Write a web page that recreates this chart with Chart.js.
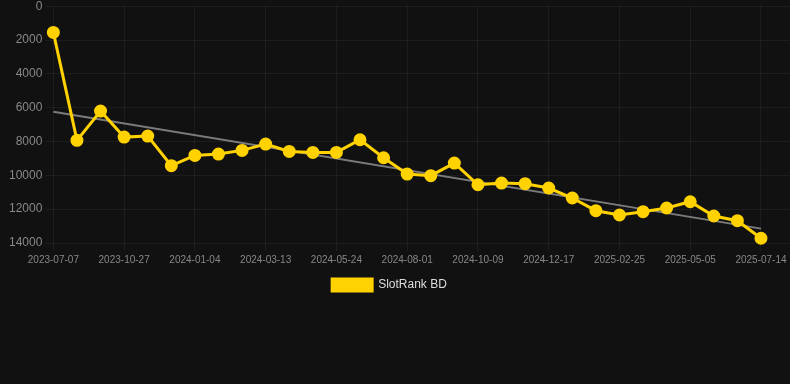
<!DOCTYPE html>
<html><head><meta charset="utf-8">
<script src="https://cdn.jsdelivr.net/npm/chart.js@4"></script>
<style>html,body{margin:0;padding:0;background:#111111;overflow:hidden;}#wrap{width:790px;height:305px;margin-top:-4px;position:relative;}</style>
</head><body><div id="wrap"><canvas id="c"></canvas></div>
<script>
const dates = ["2023-07-07","2023-08-13","2023-09-20","2023-10-27","2023-11-19","2023-12-12",
  "2024-01-04","2024-01-27","2024-02-19","2024-03-13","2024-04-06","2024-04-30",
  "2024-05-24","2024-06-16","2024-07-09","2024-08-01","2024-08-24","2024-09-16",
  "2024-10-09","2024-11-01","2024-11-24","2024-12-17","2025-01-09","2025-02-01",
  "2025-02-25","2025-03-20","2025-04-12","2025-05-05","2025-05-28","2025-06-20","2025-07-14"];
const ranks = [1550,7930,6200,7740,7680,9430,8820,8740,8525,8150,8585,8645,8645,7895,8960,
  9925,10020,9275,10555,10455,10495,10750,11340,12090,12345,12150,11930,11560,12405,12680,13720];
const trendEnds = [6240,13150];
const shownDateIdx = [0,3,6,9,12,15,18,21,24,27,30];
const yTicks = [0,2000,4000,6000,8000,10000,12000,14000];

const yellow = '#FFD200';
const grid = 'rgba(255,255,255,0.05)';
const legendCenterX = 389.5;
const shiftLegend = {
  id: 'shiftLegend',
  afterLayout(chart) {
    const lg = chart.legend; if (!lg) return;
    const d = legendCenterX - (lg.left + lg.right) / 2;
    lg.left += d; lg.right += d;
    if (lg.legendHitBoxes) lg.legendHitBoxes.forEach(b => { b.left += d; });
  }
};
new Chart(document.getElementById('c'), {
  type: 'line',
  plugins: [shiftLegend],
  data: {
    datasets: [{
      label: 'SlotRank BD',
      data: ranks.map((v,i)=>({x:i,y:v})),
      borderColor: yellow, backgroundColor: yellow,
      borderWidth: 3, pointRadius: 5, pointBackgroundColor: yellow, pointBorderColor: yellow,
      tension: 0, clip: false
    },{
      label: 'trend',
      data: [{x:0,y:trendEnds[0]},{x:dates.length-1,y:trendEnds[1]}],
      borderColor: 'rgba(150,150,150,0.8)', borderWidth: 2, pointRadius: 0, clip: false
    }]
  },
  options: {
    responsive: true, maintainAspectRatio: false, animation: false,
    layout: { autoPadding: false, padding: { left: 6, right: 0, top: 0, bottom: 0 } },
    plugins: {
      legend: { position: 'bottom', labels: { color: '#dddddd', boxWidth: 40, font: {size: 12},
        filter: it => it.datasetIndex === 0 } },
      tooltip: { enabled: false }
    },
    scales: {
      x: { type: 'linear', min: 0, max: 31.23,
        afterBuildTicks: s => { s.ticks = shownDateIdx.map(v=>({value:v})); },
        ticks: { color: '#888888', font: {size: 10}, maxRotation: 0, autoSkip: false,
          callback: v => dates[v] },
        grid: { color: grid }, border: { display: false } },
      y: { reverse: true, min: 0, max: 14000,
        afterBuildTicks: s => { s.ticks = yTicks.map(v=>({value:v})); },
        ticks: { color: '#888888', font: {size: 12}, callback: v => String(v) },
        grid: { color: grid }, border: { display: false } }
    }
  }
});
</script></body></html>
